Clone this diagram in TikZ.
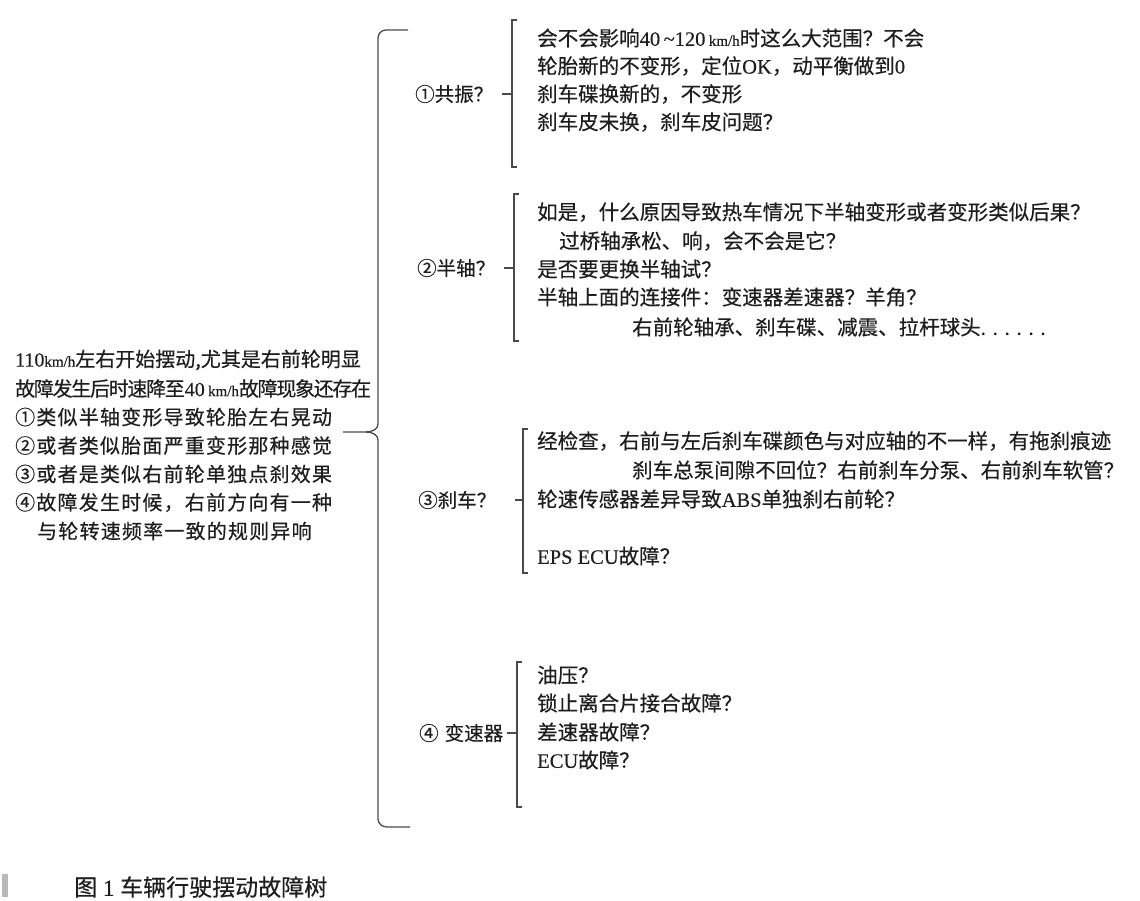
\documentclass[tikz,border=0pt]{standalone}
\usepackage{fontspec}
\setmainfont[FakeBold=0.3]{Liberation Serif}
\newfontfamily\cjk[FakeBold=0.4]{Noto Sans CJK SC}
\newfontfamily\cjkwide[LetterSpace=6,FakeBold=0.4]{Noto Sans CJK SC}
\newfontfamily\cjknarrow[LetterSpace=-6.5,FakeBold=0.4]{Noto Sans CJK SC}
\newcommand{\lat}[1]{{\rmfamily #1}}
\newcommand{\smallunit}[1]{{\rmfamily\fontsize{15}{18}\selectfont #1}}
\definecolor{ink}{HTML}{1E1E1E}
\definecolor{rulecol}{HTML}{4A4A4A}
\begin{document}
\begin{tikzpicture}[x=1pt,y=-1pt,
  txt/.style={anchor=west,inner sep=0pt,text=ink,font=\fontsize{20.5}{24}\selectfont\cjk},
  roottxt/.style={anchor=west,inner sep=0pt,text=ink,font=\fontsize{20}{24}\selectfont\cjk},
  rootwide/.style={roottxt,font=\fontsize{20}{24}\selectfont\cjkwide},
  rootnarrow/.style={roottxt,font=\fontsize{20}{24}\selectfont\cjknarrow},
  lbl/.style={anchor=west,inner sep=0pt,text=ink,font=\fontsize{19.5}{24}\selectfont\cjk},
  brk/.style={draw=rulecol,line width=1.4pt},
  bigbrk/.style={draw=rulecol,line width=1.3pt}]
\useasboundingbox (0,0) rectangle (1140,901);
\fill[white] (0,0) rectangle (1140,901);

% root text
\node[roottxt] (r1) at (15,360) {\lat{110}\smallunit{km/h}左右开始摆动,尤其是右前轮明显};
\node[rootnarrow] (r2) at (15,388.5) {故障发生后时速降至\lat{40\,}\smallunit{km/h}故障现象还存在};
\node[rootwide] (r3) at (15,417) {①类似半轴变形导致轮胎左右晃动};
\node[rootwide] (r4) at (15,445.5) {②或者类似胎面严重变形那种感觉};
\node[rootwide] (r5) at (15,474) {③或者是类似右前轮单独点刹效果};
\node[rootwide] (r6) at (15,502.5) {④故障发生时候，右前方向有一种};
\node[rootwide] (r7) at (37,531) {与轮转速频率一致的规则异响};

% big brace
\coordinate (cusp) at (343,432);
\draw[bigbrk] (408,30) -- (386,30) to[out=180,in=90] (378,38) -- (378,424)
  to[out=270,in=0] (366,432) -- (cusp);
\draw[bigbrk] (366,432) to[out=0,in=90] (378,440) -- (378,819)
  to[out=270,in=180] (387,827) -- (410,827);

% labels
\node[lbl] (l1) at (415,94) {①共振？};
\node[lbl] (l2) at (417,268) {②半轴？};
\node[lbl] (l3) at (418,500) {③刹车？};
\node[lbl] (l4) at (419,733) {④\hspace{6pt}变速器};

% sub-brackets
\draw[brk] (517,20) -- (512,20) -- (512,167) -- (517,167);
\draw[brk] (502,94) -- (512,94);
\draw[brk] (519,194) -- (514,194) -- (514,341) -- (519,341);
\draw[brk] (504,268) -- (514,268);
\draw[brk] (528,429) -- (523,429) -- (523,573) -- (528,573);
\draw[brk] (515,500) -- (523,500);
\draw[brk] (522,662) -- (517,662) -- (517,807) -- (522,807);
\draw[brk] (507,733) -- (517,733);

% block 1
\node[txt] (a1) at (537,38) {会不会影响\lat{40\,\textasciitilde120\,}\smallunit{km/h}时这么大范围？不会};
\node[txt] (a2) at (537,66) {轮胎新的不变形，定位\lat{OK}，动平衡做到\lat{0}};
\node[txt] (a3) at (537,94) {刹车碟换新的，不变形};
\node[txt] (a4) at (537,122) {刹车皮未换，刹车皮问题？};

% block 2
\node[txt] (b1) at (537,212) {如是，什么原因导致热车情况下半轴变形或者变形类似后果？};
\node[txt] (b2) at (559,241) {过桥轴承松、响，会不会是它？};
\node[txt] (b3) at (537,269) {是否要更换半轴试？};
\node[txt] (b4) at (537,297) {半轴上面的连接件：变速器差速器？羊角？};
\node[txt] (b5) at (632,327) {右前轮轴承、刹车碟、减震、拉杆球头\lat{. . . . . .}};

% block 3
\node[txt] (c1) at (537,441) {经检查，右前与左后刹车碟颜色与对应轴的不一样，有拖刹痕迹};
\node[txt] (c2) at (632,470) {刹车总泵间隙不回位？右前刹车分泵、右前刹车软管？};
\node[txt] (c3) at (537,499) {轮速传感器差异导致\lat{ABS}单独刹右前轮？};
\node[txt] (c4) at (537,556) {\lat{EPS ECU}故障？};

% block 4
\node[txt] (d1) at (537,675) {油压？};
\node[txt] (d2) at (537,703) {锁止离合片接合故障？};
\node[txt] (d3) at (537,732) {差速器故障？};
\node[txt] (d4) at (537,760) {\lat{ECU}故障？};

% caption
\node[anchor=west,inner sep=0pt,text=ink,font=\fontsize{23}{26}\selectfont\cjk] (cap) at (74,887) {图\lat{ 1 }车辆行驶摆动故障树};
\fill[gray!55] (2,874) rectangle (8,897);
\end{tikzpicture}
\end{document}
